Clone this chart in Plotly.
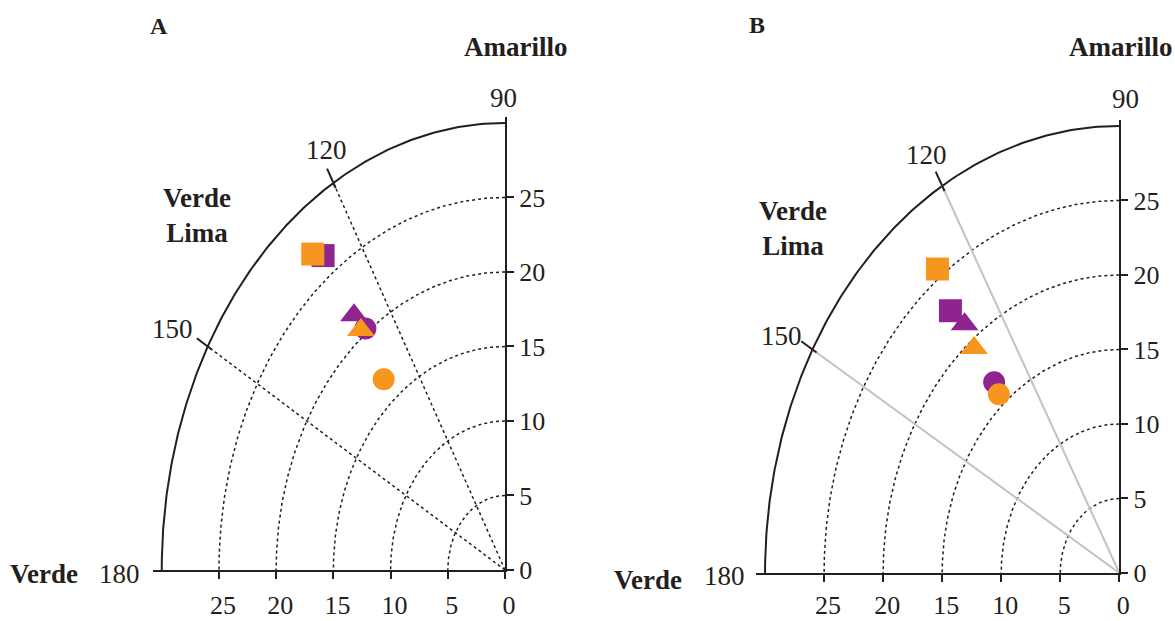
import numpy as np
import plotly.graph_objects as go

# ---------------- data (CIELAB a* <0 = green, b* >0 = yellow) ----------------
# order inside each list: square, triangle, circle
shapes = ["square", "triangle-up", "circle"]

a_purple_A = [-15.9, -13.2, -12.2]
b_purple_A = [21.1, 17.1, 16.2]
a_orange_A = [-16.8, -12.6, -10.6]
b_orange_A = [21.2, 16.1, 12.8]

a_purple_B = [-14.3, -13.1, -10.6]
b_purple_B = [17.6, 16.7, 12.8]
a_orange_B = [-15.4, -12.3, -10.2]
b_orange_B = [20.4, 15.1, 12.0]

chroma_rings = [5, 10, 15, 20, 25]
outer_chroma = 30
hue_spokes = [120, 150]
axis_ticks = [0, 5, 10, 15, 20, 25]
hue_labels = ["90", "120", "150", "180"]

PURPLE = "#8E248F"
ORANGE = "#F7961F"
FONT = "Liberation Serif"
INK = "#231F20"

W, H = 1175, 621
XR = [-30.8, 0]
YR = [0, 30.4]
fig = go.Figure()

panels = {
    "A": dict(xa="x", ya="y", xdom=[0.12987, 0.42979], ydom=[0.08213, 0.8116], standoff=4,
              spoke=dict(color=INK, width=1.5, dash="dot"),
              pts=[(a_purple_A, b_purple_A, PURPLE), (a_orange_A, b_orange_A, ORANGE)]),
    "B": dict(xa="x2", ya="y2", xdom=[0.64306, 0.95260], ydom=[0.07729, 0.80676], standoff=1,
              spoke=dict(color="#C2C2C2", width=2),
              pts=[(a_purple_B, b_purple_B, PURPLE), (a_orange_B, b_orange_B, ORANGE)]),
}

th = np.radians(np.linspace(90, 180, 181))
for key, p in panels.items():
    xa, ya = p["xa"], p["ya"]
    for r in chroma_rings:
        fig.add_trace(go.Scatter(x=r * np.cos(th), y=r * np.sin(th), mode="lines",
                                 line=dict(color=INK, width=1.5, dash="dot"),
                                 xaxis=xa, yaxis=ya, hoverinfo="skip", showlegend=False))
    fig.add_trace(go.Scatter(x=outer_chroma * np.cos(th), y=outer_chroma * np.sin(th),
                             mode="lines", line=dict(color=INK, width=2),
                             xaxis=xa, yaxis=ya, hoverinfo="skip", showlegend=False,
                             cliponaxis=False))
    for h in hue_spokes:
        t = np.radians(h)
        fig.add_trace(go.Scatter(x=[0, outer_chroma * np.cos(t)], y=[0, outer_chroma * np.sin(t)],
                                 mode="lines", line=p["spoke"],
                                 xaxis=xa, yaxis=ya, hoverinfo="skip", showlegend=False))
        fig.add_trace(go.Scatter(x=[29.6 * np.cos(t), 31.1 * np.cos(t)],
                                 y=[29.6 * np.sin(t), 31.1 * np.sin(t)],
                                 mode="lines", line=dict(color=INK, width=2),
                                 xaxis=xa, yaxis=ya, hoverinfo="skip", showlegend=False,
                                 cliponaxis=False))
    for (a, b, col) in p["pts"]:
        for i, sym in enumerate(shapes):
            size = {"square": 23, "triangle-up": 24, "circle": 22}[sym]
            fig.add_trace(go.Scatter(x=[a[i]], y=[b[i]], mode="markers",
                                     marker=dict(symbol=sym, size=size, color=col,
                                                 line=dict(width=0)),
                                     xaxis=xa, yaxis=ya, showlegend=False,
                                     cliponaxis=False))

tickfont = dict(family=FONT, size=26, color=INK)
for key, p in panels.items():
    xname = "xaxis" if p["xa"] == "x" else "xaxis2"
    yname = "yaxis" if p["ya"] == "y" else "yaxis2"
    fig.update_layout(**{
        xname: dict(domain=p["xdom"], range=XR, anchor=p["ya"], automargin=False,
                    showgrid=False, zeroline=False, showline=True, linecolor=INK, linewidth=2,
                    ticks="outside", ticklen=7, tickwidth=2, tickcolor=INK,
                    tickvals=[-v for v in axis_ticks], ticktext=[str(v) for v in axis_ticks],
                    tickfont=tickfont, ticklabelstandoff=p["standoff"], ticklabelshift=4),
        yname: dict(domain=p["ydom"], range=YR, anchor=p["xa"], side="right", automargin=False,
                    showgrid=False, zeroline=False, showline=True, linecolor=INK, linewidth=2,
                    ticks="outside", ticklen=7, tickwidth=2, tickcolor=INK,
                    tickvals=axis_ticks, ticktext=[str(v) for v in axis_ticks],
                    tickfont=tickfont, ticklabelstandoff=0),
    })


def to_paper(p, x, y):
    px = p["xdom"][0] + (x - XR[0]) / (XR[1] - XR[0]) * (p["xdom"][1] - p["xdom"][0])
    py = p["ydom"][0] + (y - YR[0]) / (YR[1] - YR[0]) * (p["ydom"][1] - p["ydom"][0])
    return px, py


ann = []
def add_text(key, x, y, text, size=27, bold=False, xanchor="center", yanchor="middle"):
    px, py = to_paper(panels[key], x, y)
    ann.append(dict(xref="paper", yref="paper", x=px, y=py,
                    text=f"<b>{text}</b>" if bold else text,
                    showarrow=False, xanchor=xanchor, yanchor=yanchor,
                    font=dict(family=FONT, size=size, color=INK)))

# Panel A labels
add_text("A", -0.1, 31.7, hue_labels[0])
add_text("A", -15.6, 28.2, hue_labels[1])
add_text("A", -29.1, 16.2, hue_labels[2])
add_text("A", -33.7, -0.3, hue_labels[3])
add_text("A", 0.9, 35.1, "Amarillo", bold=True)
add_text("A", -30.1, 23.8, "Verde<br>Lima", bold=True, xanchor="left")
add_text("A", -40.3, -0.3, "Verde", bold=True)
add_text("A", -30.2, 36.5, "A", size=24, bold=True)
# Panel B labels
add_text("B", 0.5, 31.8, hue_labels[0])
add_text("B", -16.3, 28.05, hue_labels[1])
add_text("B", -28.6, 15.9, hue_labels[2])
add_text("B", -33.4, -0.2, hue_labels[3])
add_text("B", 0.06, 35.3, "Amarillo", bold=True)
add_text("B", -30.7, 23.15, "Verde<br>Lima", bold=True, xanchor="left")
add_text("B", -39.9, -0.5, "Verde", bold=True)
add_text("B", -30.7, 36.8, "B", size=24, bold=True)

fig.update_layout(template="none", width=W, height=H, margin=dict(l=0, r=0, t=0, b=0),
                  paper_bgcolor="white", plot_bgcolor="white",
                  annotations=ann, showlegend=False)

fig.write_html("out.html", config={"displayModeBar": False},
               post_script="document.body.style.margin='0';document.body.style.overflow='hidden';")
